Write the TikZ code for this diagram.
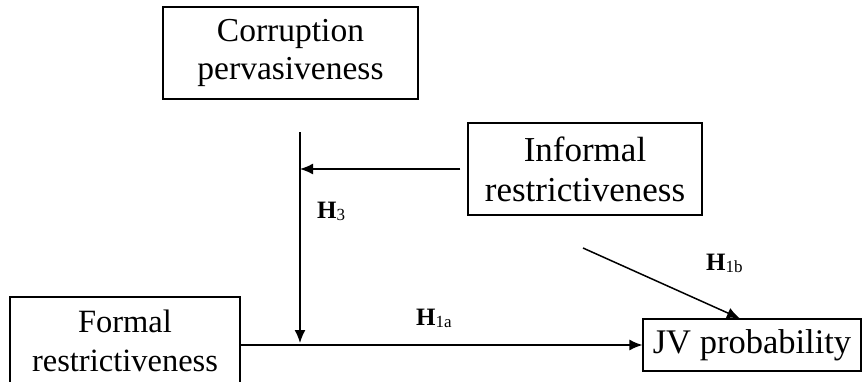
\documentclass[tikz,border=0pt]{standalone}
\usepackage{fontspec}
\setmainfont{Liberation Serif}
\usetikzlibrary{arrows.meta,calc}
\begin{document}
\begin{tikzpicture}[x=1pt,y=-1pt,
  box/.style={draw, line width=1.1pt, inner sep=0pt, align=center},
  arr/.style={line width=1.5pt, -{Latex[length=13pt,width=11pt]}},
  hlab/.style={inner sep=0pt, anchor=base west, font=\fontsize{25}{25}\selectfont\bfseries},
  subt/.style={}
]
\useasboundingbox (0,0) rectangle (862,381);
\clip (0,0) rectangle (862,381);
\node[box, minimum width=255pt, minimum height=92pt, font=\fontsize{33.5}{38}\selectfont] (cp) at (290.5,53) {Corruption\\pervasiveness};
\node[box, minimum width=234pt, minimum height=92pt, font=\fontsize{35}{40}\selectfont] (inf) at (585,169) {Informal\\restrictiveness};
\node[box, minimum width=230pt, minimum height=88pt, font=\fontsize{32.5}{39}\selectfont] (fr) at (125,341) {Formal\\restrictiveness};
\node[box, minimum width=218pt, minimum height=52pt, font=\fontsize{34.5}{40}\selectfont] (jv) at (752,345) {JV probability};
\coordinate (vtop) at (300,132);
\coordinate (vend) at (300,343);
\coordinate (dstart) at (583,248);
\draw[arr] (vtop) -- (vend);
\draw[arr, shorten <=7pt] (inf.west) -- (inf.west -| vtop);
\draw[arr] (fr.east |- jv.west) -- (jv.west);
\draw[arr] (dstart) -- ($(jv.north west)!0.445!(jv.north east)$);
\node[hlab] (h3) at (317,218) {H\raisebox{-2pt}{\fontsize{17}{17}\selectfont\mdseries 3}};
\node[hlab] (h1a) at (416,325) {H\raisebox{-2pt}{\fontsize{17}{17}\selectfont\mdseries 1a}};
\node[hlab] (h1b) at (706,270) {H\raisebox{-2pt}{\fontsize{17}{17}\selectfont\mdseries 1b}};
\end{tikzpicture}
\end{document}
